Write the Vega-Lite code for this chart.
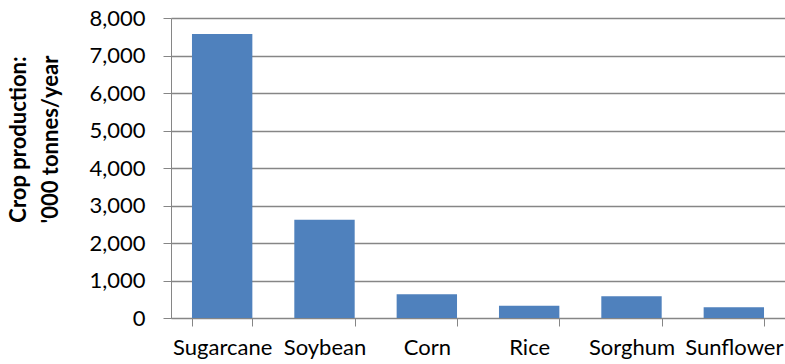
{
  "$schema": "https://vega.github.io/schema/vega-lite/v6.json",
  "width": 614,
  "height": 300,
  "autosize": "none",
  "padding": {"left": 171, "top": 18, "right": 0, "bottom": 46},
  "background": "white",
  "data": {
    "values": [
      {"crop": "Sugarcane", "production": 7575},
      {"crop": "Soybean", "production": 2620},
      {"crop": "Corn", "production": 632},
      {"crop": "Rice", "production": 328},
      {"crop": "Sorghum", "production": 580},
      {"crop": "Sunflower", "production": 285}
    ]
  },
  "mark": {"type": "bar", "color": "#4F81BD"},
  "encoding": {
    "x": {
      "field": "crop",
      "type": "nominal",
      "sort": null,
      "scale": {"paddingInner": 0.41, "paddingOuter": 0.205},
      "axis": {
        "title": null,
        "labelAngle": 0,
        "tickBand": "extent",
        "grid": false,
        "domainColor": "#868686",
        "tickColor": "#868686",
        "tickSize": 8,
        "labelFont": "Lato",
        "labelFontSize": 22,
        "labelColor": "#000000",
        "labelPadding": 11
      }
    },
    "y": {
      "field": "production",
      "type": "quantitative",
      "scale": {"domain": [0, 8000], "nice": false},
      "axis": {
        "values": [0, 1000, 2000, 3000, 4000, 5000, 6000, 7000, 8000],
        "format": ",.0f",
        "title": ["Crop production:", "'000 tonnes/year"],
        "titleFont": "Lato",
        "titleFontWeight": "bold",
        "titleFontSize": 22,
        "titleLineHeight": 32,
        "titleColor": "#000000",
        "titleAngle": -90,
        "titleAlign": "center",
        "titleBaseline": "middle",
        "titleX": -153,
        "titleY": 121,
        "grid": true,
        "gridColor": "#868686",
        "gridWidth": 1.3,
        "domainColor": "#868686",
        "tickColor": "#868686",
        "tickSize": 8,
        "labelFont": "Lato",
        "labelFontSize": 22,
        "labelColor": "#000000",
        "labelPadding": 18
      }
    }
  },
  "config": {"view": {"stroke": null}}
}
